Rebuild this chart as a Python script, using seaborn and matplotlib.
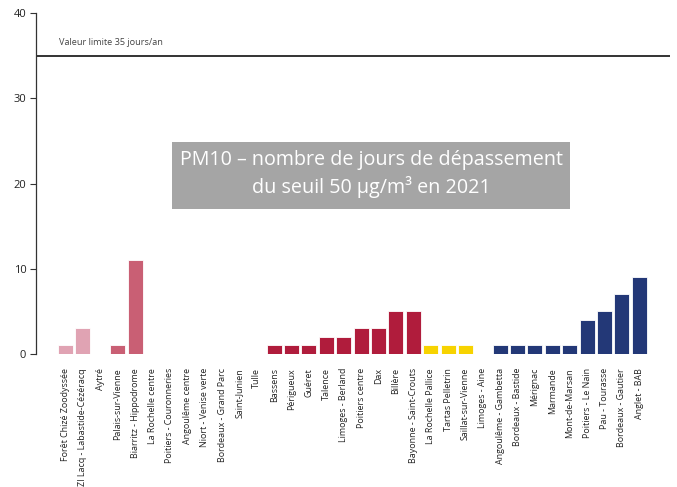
"""PM10 - nombre de jours de dépassement du seuil 50 µg/m3 en 2021."""

import matplotlib.pyplot as plt
import pandas as pd
import seaborn as sns
from matplotlib.patches import Rectangle

stations = [
    "Forêt Chizé Zoodyssée", "ZI Lacq - Labastide-Cézéracq", "Aytré",
    "Palais-sur-Vienne", "Biarritz - Hippodrome", "La Rochelle centre",
    "Poitiers - Couronneries", "Angoulême centre", "Niort - Venise verte",
    "Bordeaux - Grand Parc", "Saint-Junien", "Tulle", "Bassens", "Périgueux",
    "Guéret", "Talence", "Limoges - Berland", "Poitiers centre", "Dax",
    "Billère", "Bayonne - Saint-Crouts", "La Rochelle Pallice",
    "Tartas Pelletrin", "Saillat-sur-Vienne", "Limoges - Aine",
    "Angoulême - Gambetta", "Bordeaux - Bastide", "Mérignac", "Marmande",
    "Mont-de-Marsan", "Poitiers - Le Nain", "Pau - Tourasse",
    "Bordeaux - Gautier", "Anglet - BAB",
]
jours = [1, 3, 0, 1, 11, 0, 0, 0, 0, 0, 0, 0, 1, 1, 1, 2, 2, 3, 3, 5, 5,
         1, 1, 1, 0, 1, 1, 1, 1, 1, 4, 5, 7, 9]
groupes = (["g1"] * 3 + ["g2"] * 9 + ["g3"] * 9 + ["g4"] * 4 + ["g5"] * 9)
palette = {"g1": "#E0A3B3", "g2": "#C95F74", "g3": "#B01C3C",
           "g4": "#F7D300", "g5": "#233877"}
valeur_limite = 35

df = pd.DataFrame({"station": stations, "jours": jours, "groupe": groupes})

sns.set_theme(style="white")
plt.rcParams["font.family"] = ["Open Sans", "DejaVu Sans"]

fig = plt.figure(figsize=(6.77, 4.87), dpi=100)
ax = fig.add_axes([0.0532, 0.2731, 0.9365, 0.7002])

sns.barplot(data=df, x="station", y="jours", hue="groupe", palette=palette,
            dodge=False, legend=False, width=0.86, saturation=1,
            edgecolor="#ffffff", linewidth=0.6, ax=ax)

ax.axhline(valeur_limite, color="#333333", linewidth=1.4)
ax.text(0.037, 0.9, "Valeur limite 35 jours/an", transform=ax.transAxes,
        fontsize=6.6, color="#444444", va="bottom")

# cartouche de titre gris
ax.add_patch(Rectangle((0.2145, 0.4252), 0.6278, 0.1965,
                       transform=ax.transAxes, facecolor="#A5A5A5",
                       edgecolor="none", zorder=3))
ax.text(0.5285, 0.527,
        "PM10 – nombre de jours de dépassement\ndu seuil 50 µg/m³ en 2021",
        transform=ax.transAxes, ha="center", va="center", fontsize=14.2,
        color="white", linespacing=1.35, zorder=4)

ax.set_ylim(0, 40)
ax.set_xlim(-1.7, 34.77)
ax.set_yticks([0, 10, 20, 30, 40])
ax.set_xlabel("")
ax.set_ylabel("")
ax.tick_params(axis="y", left=True, length=4, width=0.8, color="#333333",
               labelsize=8, labelcolor="#222222", pad=3)
ax.tick_params(axis="x", bottom=False, labelsize=6.4, labelcolor="#222222",
               pad=4)
plt.setp(ax.get_xticklabels(), rotation=90, ha="center", va="top")

for side in ["top", "right", "bottom"]:
    ax.spines[side].set_visible(False)
ax.spines["left"].set_color("#333333")
ax.spines["left"].set_linewidth(0.9)

fig.savefig("out.png", dpi=100)
plt.close(fig)
